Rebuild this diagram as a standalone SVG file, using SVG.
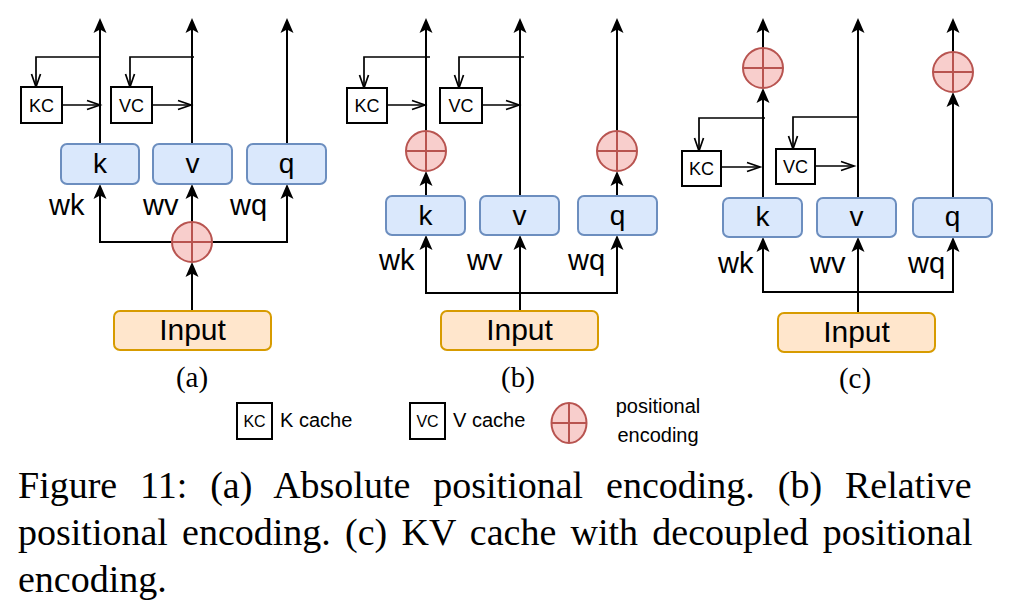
<svg xmlns="http://www.w3.org/2000/svg" width="1013" height="612" viewBox="0 0 1013 612">
<style>
.bg{fill:#fff}
.blue{fill:#dae8fc;stroke:#6c8ebf;stroke-width:2}
.orange{fill:#ffe6cc;stroke:#d79b00;stroke-width:2}
.pe{fill:#f8cecc;stroke:#b85450;stroke-width:2}
.cache{fill:#fff;stroke:#000;stroke-width:2}
.ln{fill:none;stroke:#000;stroke-width:2}
.lnt{fill:none;stroke:#000;stroke-width:1.7}
.a{marker-end:url(#arr)}
.o{marker-end:url(#open)}
.sans{font-family:"Liberation Sans",Arial,sans-serif;fill:#000}
.box{font-size:28px;text-anchor:middle}
.inp{font-size:30px;text-anchor:middle}
.w{font-size:29px}
.kc{font-size:18px;text-anchor:middle}
.leg{font-size:20px}
.serif{font-family:"Liberation Serif","Times New Roman",serif;fill:#000}
.sub{font-size:29px;text-anchor:middle}
.cap{font-size:38px}
</style>
<defs>
<marker id="arr" markerWidth="16" markerHeight="14" refX="11" refY="6.5" orient="auto" markerUnits="userSpaceOnUse" overflow="visible"><path d="M0,0 L15,6.5 L0,13 L3.5,6.5 z" fill="#000"/></marker>
<marker id="open" markerWidth="14" markerHeight="12" refX="13" refY="4.5" orient="auto" markerUnits="userSpaceOnUse" overflow="visible"><path d="M0,0 L13,4.5 L0,9" fill="none" stroke="#000" stroke-width="1.7"/></marker>
<g id="pesym"><circle cx="0" cy="0" r="20" class="pe"/><path d="M-20,0 H20 M0,-20 V20" stroke="#b85450" stroke-width="2"/></g>
</defs>
<rect class="bg" x="0" y="0" width="1013" height="612"/>

<g id="connectors">
  <!-- panel a -->
  <path class="ln a" d="M100,144 V22"/>
  <path class="ln a" d="M192,144 V22"/>
  <path class="ln a" d="M287,144 V22"/>
  <path class="lnt o" d="M100,57 H36 V87"/>
  <path class="lnt o" d="M62,105 H100"/>
  <path class="lnt o" d="M194,57 H130 V87"/>
  <path class="lnt o" d="M152,105 H191"/>
  <path class="ln a" d="M192,311 V266"/>
  <path class="ln a" d="M192,222 V188"/>
  <path class="ln a" d="M192,242 H100 V188"/>
  <path class="ln a" d="M192,242 H287 V188"/>
  <!-- panel b -->
  <path class="ln a" d="M426,196 V175"/>
  <path class="ln a" d="M426,131 V22"/>
  <path class="lnt o" d="M430,57 H364 V88"/>
  <path class="lnt o" d="M387,105 H425"/>
  <path class="lnt o" d="M524,57 H459 V88"/>
  <path class="lnt o" d="M482,105 H519"/>
  <path class="ln a" d="M520,196 V22"/>
  <path class="ln a" d="M617,196 V175"/>
  <path class="ln a" d="M617,131 V22"/>
  <path class="ln a" d="M520,311 V239"/>
  <path class="ln a" d="M520,293 H426 V239"/>
  <path class="ln a" d="M520,293 H617 V239"/>
  <!-- panel c -->
  <path class="ln a" d="M763,198 V92"/>
  <path class="ln a" d="M763,48 V22"/>
  <path class="ln a" d="M953,198 V96"/>
  <path class="ln a" d="M953,52 V22"/>
  <path class="ln a" d="M858,198 V22"/>
  <path class="lnt o" d="M765,118 H699 V151"/>
  <path class="lnt o" d="M721,167 H760"/>
  <path class="lnt o" d="M859,117 H793 V149"/>
  <path class="lnt o" d="M815,166 H854"/>
  <path class="ln a" d="M858,313 V241"/>
  <path class="ln a" d="M858,292 H763 V241"/>
  <path class="ln a" d="M858,292 H953 V241"/>
</g>

<!-- panel a nodes -->
<g id="a-k"><rect class="blue" x="61" y="144" width="78" height="40" rx="6"/><text class="sans box" x="100" y="173">k</text></g>
<g id="a-v"><rect class="blue" x="153" y="144" width="79" height="40" rx="6"/><text class="sans box" x="192.5" y="173">v</text></g>
<g id="a-q"><rect class="blue" x="247" y="144" width="79" height="40" rx="6"/><text class="sans box" x="286.5" y="173">q</text></g>
<g id="a-kc"><rect class="cache" x="21" y="87" width="41" height="36"/><text class="sans kc" x="41.5" y="112">KC</text></g>
<g id="a-vc"><rect class="cache" x="111" y="87" width="41" height="36"/><text class="sans kc" x="131.5" y="112">VC</text></g>
<g id="a-pe"><use href="#pesym" x="192" y="242"/></g>
<g id="a-input"><rect class="orange" x="114" y="311" width="157" height="39" rx="6"/><text class="sans inp" x="192.5" y="340">Input</text></g>
<g id="a-labels" class="sans w"><text x="49" y="215">wk</text><text x="143" y="215">wv</text><text x="230" y="215">wq</text></g>
<text class="serif sub" x="192" y="387">(a)</text>

<!-- panel b nodes -->
<g id="b-k"><rect class="blue" x="386" y="196" width="79" height="39" rx="6"/><text class="sans box" x="425.5" y="225">k</text></g>
<g id="b-v"><rect class="blue" x="480" y="196" width="79" height="39" rx="6"/><text class="sans box" x="519.5" y="225">v</text></g>
<g id="b-q"><rect class="blue" x="578" y="196" width="79" height="39" rx="6"/><text class="sans box" x="617.5" y="225">q</text></g>
<g id="b-kc"><rect class="cache" x="347" y="88" width="40" height="35"/><text class="sans kc" x="367" y="112">KC</text></g>
<g id="b-vc"><rect class="cache" x="440" y="88" width="42" height="35"/><text class="sans kc" x="461" y="112">VC</text></g>
<g id="b-pe-k"><use href="#pesym" x="426" y="151"/></g>
<g id="b-pe-q"><use href="#pesym" x="617" y="151"/></g>
<g id="b-input"><rect class="orange" x="441" y="311" width="157" height="39" rx="6"/><text class="sans inp" x="519.5" y="340">Input</text></g>
<g id="b-labels" class="sans w"><text x="379" y="270">wk</text><text x="467" y="270">wv</text><text x="568" y="270">wq</text></g>
<text class="serif sub" x="518" y="387">(b)</text>

<!-- panel c nodes -->
<g id="c-k"><rect class="blue" x="723" y="198" width="79" height="39" rx="6"/><text class="sans box" x="762.5" y="226">k</text></g>
<g id="c-v"><rect class="blue" x="817" y="198" width="79" height="39" rx="6"/><text class="sans box" x="856.5" y="226">v</text></g>
<g id="c-q"><rect class="blue" x="913" y="198" width="79" height="39" rx="6"/><text class="sans box" x="952.5" y="226">q</text></g>
<g id="c-kc"><rect class="cache" x="682" y="151" width="39" height="35"/><text class="sans kc" x="701.5" y="175">KC</text></g>
<g id="c-vc"><rect class="cache" x="776" y="149" width="39" height="35"/><text class="sans kc" x="795.5" y="173">VC</text></g>
<g id="c-pe-k"><use href="#pesym" x="763" y="68"/></g>
<g id="c-pe-q"><use href="#pesym" x="953" y="72"/></g>
<g id="c-input"><rect class="orange" x="778" y="313" width="157" height="39" rx="6"/><text class="sans inp" x="856.5" y="342">Input</text></g>
<g id="c-labels" class="sans w"><text x="718" y="273">wk</text><text x="810" y="273">wv</text><text x="908" y="273">wq</text></g>
<text class="serif sub" x="855" y="388">(c)</text>

<!-- legend -->
<g id="legend-kc"><rect class="cache" x="237" y="403" width="35" height="36"/><text class="sans" font-size="16" text-anchor="middle" x="254.5" y="427">KC</text><text class="sans leg" x="280" y="427">K cache</text></g>
<g id="legend-vc"><rect class="cache" x="410" y="403" width="35" height="36"/><text class="sans" font-size="16" text-anchor="middle" x="427.5" y="427">VC</text><text class="sans leg" x="453" y="427">V cache</text></g>
<g id="legend-pe"><ellipse class="pe" cx="569" cy="423" rx="17.5" ry="20"/><path d="M551.5,423 H586.5 M569,403 V443" stroke="#b85450" stroke-width="2"/><text class="sans leg" text-anchor="middle" x="658" y="413">positional</text><text class="sans leg" text-anchor="middle" x="658" y="442">encoding</text></g>

<!-- caption -->
<g id="caption" class="serif cap">
<text x="18" y="498" word-spacing="13.4">Figure 11: (a) Absolute positional encoding. (b) Relative</text>
<text x="18" y="545" word-spacing="4.7">positional encoding. (c) KV cache with decoupled positional</text>
<text x="18" y="592">encoding.</text>
</g>
</svg>
